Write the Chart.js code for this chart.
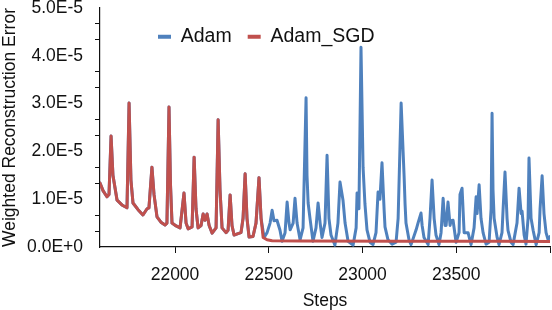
<!DOCTYPE html>
<html>
<head>
<meta charset="utf-8">
<script src="https://cdn.jsdelivr.net/npm/chart.js@4.4.1/dist/chart.umd.min.js"></script>
<style>
  html, body { margin: 0; padding: 0; background: #fff; }
  #wrap { width: 552px; height: 310px; position: relative; }
</style>
</head>
<body>
<div id="wrap"><canvas id="chart"></canvas></div>
<script>
// Shared warm-up part: both runs follow the same curve until ~22450 steps
const commonSteps = [21600, 21616, 21637, 21648, 21659, 21669, 21691, 21717, 21744, 21755,
  21765, 21776, 21803, 21829, 21851, 21861, 21877, 21888, 21904, 21925,
  21947, 21957, 21968, 21976, 21984, 22006, 22027, 22048, 22059, 22070,
  22091, 22102, 22112, 22123, 22139, 22150, 22160, 22171, 22182, 22198,
  22219, 22230, 22240, 22251, 22272, 22283, 22294, 22304, 22315, 22336,
  22352, 22363, 22374, 22384, 22395, 22416, 22432, 22448, 22459];
const commonValues = [1.34e-5, 1.18e-5, 1.05e-5, 1.1e-5, 2.32e-5, 1.5e-5, 0.98e-5, 0.88e-5, 0.82e-5, 3.01e-5,
  1.4e-5, 0.92e-5, 0.78e-5, 0.67e-5, 0.8e-5, 0.82e-5, 1.67e-5, 1.1e-5, 0.63e-5, 0.52e-5,
  0.46e-5, 0.5e-5, 2.93e-5, 1.3e-5, 0.5e-5, 0.44e-5, 0.4e-5, 1.13e-5, 0.5e-5, 0.38e-5,
  0.42e-5, 1.88e-5, 0.8e-5, 0.4e-5, 0.45e-5, 0.69e-5, 0.56e-5, 0.69e-5, 0.45e-5, 0.29e-5,
  0.4e-5, 2.66e-5, 1.2e-5, 0.4e-5, 0.3e-5, 0.35e-5, 1.09e-5, 0.45e-5, 0.25e-5, 0.28e-5,
  0.3e-5, 0.6e-5, 1.53e-5, 0.6e-5, 0.21e-5, 0.22e-5, 0.5e-5, 1.45e-5, 0.6e-5];

// Adam after the split
const adamSteps = [22475, 22491, 22507, 22518, 22528, 22544, 22560, 22571, 22587, 22598,
  22608, 22614, 22630, 22640, 22651, 22667, 22683, 22699, 22704, 22710,
  22720, 22736, 22752, 22763, 22774, 22784, 22800, 22811, 22821, 22832,
  22853, 22869, 22880, 22891, 22896, 22907, 22923, 22950, 22966, 22971,
  22981, 22992, 23003, 23013, 23024, 23040, 23056, 23072, 23083, 23093,
  23104, 23115, 23120, 23136, 23158, 23179, 23190, 23206, 23222, 23227,
  23232, 23248, 23259, 23286, 23296, 23312, 23318, 23328, 23350, 23360,
  23371, 23382, 23392, 23408, 23419, 23430, 23440, 23446, 23456, 23467,
  23472, 23483, 23499, 23515, 23520, 23531, 23542, 23552, 23563, 23579,
  23595, 23606, 23611, 23622, 23632, 23643, 23659, 23675, 23686, 23691,
  23696, 23702, 23718, 23728, 23744, 23750, 23760, 23771, 23776, 23792,
  23803, 23824, 23835, 23846, 23851, 23862, 23872, 23883, 23888, 23899,
  23910, 23926, 23942, 23947, 23958, 23968, 23979, 23990, 24000];
const adamValues = [0.2e-5, 0.3e-5, 0.5e-5, 0.77e-5, 0.55e-5, 0.56e-5, 0.35e-5, 0.12e-5, 0.3e-5, 0.94e-5,
  0.5e-5, 0.36e-5, 0.5e-5, 1.02e-5, 0.5e-5, 0.15e-5, 0.4e-5, 3.12e-5, 1.5e-5, 0.92e-5,
  0.6e-5, 0.12e-5, 0.4e-5, 0.92e-5, 0.5e-5, 0.2e-5, 0.5e-5, 1.92e-5, 0.6e-5, 0.25e-5,
  0.04e-5, 0.5e-5, 1.36e-5, 1.1e-5, 0.98e-5, 0.5e-5, 0.12e-5, 0.04e-5, 0.4e-5, 1.13e-5,
  0.8e-5, 4.18e-5, 1.67e-5, 0.9e-5, 0.36e-5, 0.1e-5, 0.05e-5, 0.3e-5, 1.15e-5, 1.0e-5,
  1.76e-5, 0.8e-5, 0.42e-5, 0.15e-5, 0.06e-5, 0.1e-5, 0.6e-5, 3.01e-5, 1.47e-5, 0.9e-5,
  0.5e-5, 0.15e-5, 0.05e-5, 0.36e-5, 0.5e-5, 0.71e-5, 0.45e-5, 0.2e-5, 0.05e-5, 0.6e-5,
  1.4e-5, 0.6e-5, 0.25e-5, 0.05e-5, 0.3e-5, 1.02e-5, 0.45e-5, 0.45e-5, 0.94e-5, 0.45e-5,
  0.55e-5, 0.56e-5, 0.1e-5, 0.3e-5, 1.1e-5, 1.23e-5, 0.3e-5, 0.3e-5, 0.3e-5, 0.05e-5,
  0.4e-5, 1.05e-5, 0.7e-5, 1.3e-5, 0.6e-5, 0.3e-5, 0.06e-5, 0.1e-5, 0.8e-5, 2.8e-5,
  1.2e-5, 0.6e-5, 0.2e-5, 0.05e-5, 0.3e-5, 0.8e-5, 1.57e-5, 0.6e-5, 0.35e-5, 0.1e-5,
  0.05e-5, 0.5e-5, 1.23e-5, 0.7e-5, 0.75e-5, 0.25e-5, 0.06e-5, 0.6e-5, 1.86e-5, 0.6e-5,
  0.35e-5, 0.05e-5, 0.3e-5, 0.8e-5, 1.49e-5, 0.7e-5, 0.3e-5, 0.15e-5, 0.22e-5];

// Adam_SGD after the split (flat)
const sgdSteps = [22470, 22491, 22518, 22667, 23201, 23734, 24000];
const sgdValues = [0.2e-5, 0.15e-5, 0.13e-5, 0.125e-5, 0.12e-5, 0.12e-5, 0.115e-5];

// x tick marks; the last one carries no label
const xTicks = [22000, 22500, 23000, 23500, 24000];
const xTickLabels = [22000, 22500, 23000, 23500];

const BLUE = '#4F81BD';
const RED = '#C0504D';
const TEXT = '#111';

function toPoints(steps, values) {
  return steps.map((s, i) => ({ x: s, y: values[i] }));
}

function isWhole(v) {
  const u = v * 1e5;
  return Math.abs(u - Math.round(u)) < 1e-6;
}

function fmtY(v) {
  if (Math.abs(v) < 1e-12) return '0.0E+0';
  return (v * 1e5).toFixed(1) + 'E-5';
}

Chart.defaults.font.family = '"Liberation Sans", Arial, sans-serif';
Chart.defaults.color = TEXT;

// legend sits inside the plot, so it takes no layout space
const legendInside = {
  id: 'legendInside',
  afterInit(chart) {
    const lg = chart.legend;
    const fit = lg.fit;
    lg.fit = function() { fit.call(this); this.height = 0; };
  },
  afterLayout(chart) {
    const lg = chart.legend;
    lg.left = 142;
    lg.top = chart.chartArea.top + 3;
    lg.right = lg.left + 400;
    lg.bottom = lg.top + 60;
    lg.width = 400;
    lg.height = 60;
  }
};

new Chart(document.getElementById('chart'), {
  type: 'line',
  data: {
    datasets: [
      {
        label: 'Adam',
        data: toPoints(commonSteps.concat(adamSteps), commonValues.concat(adamValues)),
        borderColor: BLUE,
        backgroundColor: BLUE,
        order: 2
      },
      {
        label: 'Adam_SGD',
        data: toPoints(commonSteps.concat(sgdSteps), commonValues.concat(sgdValues)),
        borderColor: RED,
        backgroundColor: RED,
        order: 1
      }
    ]
  },
  options: {
    responsive: true,
    maintainAspectRatio: false,
    animation: false,
    layout: { padding: { top: 8, right: 2, left: 0, bottom: 0 } },
    elements: {
      point: { radius: 0 },
      line: { tension: 0, borderWidth: 3, borderJoinStyle: 'round', borderCapStyle: 'round' }
    },
    plugins: {
      tooltip: { enabled: false },
      legend: {
        position: 'top',
        align: 'start',
        labels: {
          boxWidth: 13,
          boxHeight: 4,
          padding: 16,
          color: TEXT,
          font: { size: 19.5 },
          sort: (a, b) => a.datasetIndex - b.datasetIndex,
          generateLabels: chart => Chart.defaults.plugins.legend.labels.generateLabels(chart)
            .map(l => Object.assign(l, { lineWidth: 0, fillStyle: l.strokeStyle }))
        }
      }
    },
    scales: {
      x: {
        type: 'linear',
        min: 21600,
        max: 24000,
        border: { color: '#111', width: 1.2 },
        grid: { drawOnChartArea: false, tickLength: 6, tickColor: '#111' },
        ticks: {
          autoSkip: false,
          maxRotation: 0,
          padding: 12,
          color: TEXT,
          font: { size: 17.5 },
          callback: v => xTickLabels.includes(v) ? String(v) : ''
        },
        afterBuildTicks: s => { s.ticks = xTicks.map(v => ({ value: v })); },
        title: { display: true, text: 'Steps', color: TEXT, font: { size: 17.5 }, padding: { top: 0, bottom: -2 } },
        afterFit: s => { s.height = 63; s.paddingLeft = 0; s.paddingRight = 0; }
      },
      y: {
        min: 0,
        max: 5e-5,
        border: { color: '#111', width: 1.2 },
        grid: {
          drawOnChartArea: false,
          tickLength: 5,
          tickColor: ctx => (ctx.tick && !isWhole(ctx.tick.value)) ? '#111' : 'rgba(0,0,0,0)'
        },
        ticks: {
          stepSize: 1e-5 / 3,
          autoSkip: false,
          padding: 12,
          color: TEXT,
          font: { size: 17.5 },
          callback: v => isWhole(v) ? fmtY(v) : ''
        },
        title: { display: true, text: 'Weighted Reconstruction Error', color: TEXT, font: { size: 17.5 }, padding: 0 },
        afterFit: s => { s.width = 100; s.paddingTop = 0; s.paddingBottom = 0; }
      }
    }
  },
  plugins: [legendInside]
});
</script>
</body>
</html>
